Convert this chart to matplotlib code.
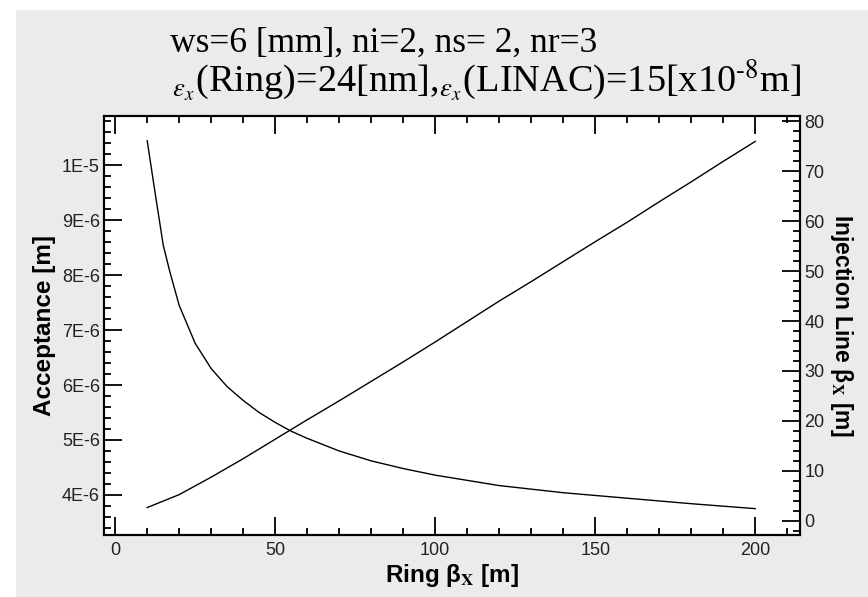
import numpy as np
import matplotlib.pyplot as plt
from matplotlib.patches import Rectangle
from matplotlib.ticker import MultipleLocator, FuncFormatter

# Ring beta_x [m] sample points
ring_beta = [10, 12, 15, 17, 20, 25, 30, 35, 40, 45, 50, 55, 60, 70, 80, 90, 100,
             120, 140, 160, 180, 200]
# Acceptance [m]
acceptance = [10.45e-6, 9.68e-6, 8.55e-6, 8.08e-6, 7.45e-6, 6.76e-6, 6.30e-6,
              5.97e-6, 5.72e-6, 5.50e-6, 5.32e-6, 5.16e-6, 5.03e-6, 4.80e-6,
              4.62e-6, 4.48e-6, 4.36e-6, 4.17e-6, 4.04e-6, 3.94e-6, 3.84e-6,
              3.75e-6]

# Injection line beta_x [m]
inj_x = [10, 20, 30, 40, 50, 60, 70, 80, 90, 100, 110, 120, 130, 140,
         150, 160, 170, 180, 190, 200]
inj_beta = [2.6, 5.2, 8.7, 12.4, 16.3, 20.2, 24.0, 27.9, 31.8, 35.8, 39.9,
            44.0, 47.9, 51.9, 55.9, 59.8, 63.9, 67.9, 72.0, 76.0]

title1 = "ws=6 [mm], ni=2, ns= 2, nr=3"
title2 = r"$_{\epsilon_x}$(Ring)=24[nm],$_{\epsilon_x}$(LINAC)=15[x10$^{\text{-}8}$m]"

plt.rcParams['mathtext.fontset'] = 'stix'

W, H = 868, 597
fig = plt.figure(figsize=(W / 100, H / 100), dpi=100, facecolor='white')
# grey panel (the picture has a thin white strip at top and left)
fig.patches.append(Rectangle((16 / W, 0), 1, 1 - 10 / H, transform=fig.transFigure,
                             facecolor='#ebebeb', edgecolor='none', zorder=-10))

ax = fig.add_axes([104 / W, 1 - 535 / H, 696 / W, 419 / H])
ax2 = ax.twinx()

ax.plot(ring_beta, acceptance, color='black', lw=1.0)
ax2.plot(inj_x, inj_beta, color='black', lw=1.0)

ax.set_xlim(-3.5, 214)
ax.set_ylim(3.27e-6, 1.09e-5)
ax2.set_ylim(-2.9, 81.1)

tick_font = dict(family='Liberation Sans', size=13)
lab_font = dict(family='Liberation Sans', size=17.5, weight='bold')

ax.xaxis.set_major_locator(MultipleLocator(50))
ax.xaxis.set_minor_locator(MultipleLocator(10))
ax.yaxis.set_major_locator(MultipleLocator(1e-6))
ax.yaxis.set_minor_locator(MultipleLocator(0.2e-6))
ax.yaxis.set_major_formatter(FuncFormatter(
    lambda v, p: '%dE-6' % round(v * 1e6) if round(v * 1e6) < 10 else '1E-5'))
ax2.yaxis.set_major_locator(MultipleLocator(10))
ax2.yaxis.set_minor_locator(MultipleLocator(2))

ax.tick_params(axis='x', which='both', direction='in', top=True, bottom=True,
               width=1.3, pad=5, labelcolor='#222222')
ax.tick_params(axis='x', which='major', length=13)
ax.tick_params(axis='x', which='minor', length=5)
ax.tick_params(axis='y', which='both', direction='in', left=True, right=False,
               width=1.3, pad=3, labelcolor='#222222')
ax.tick_params(axis='y', which='major', length=13)
ax.tick_params(axis='y', which='minor', length=5)
ax2.tick_params(axis='y', which='both', direction='in', right=True, left=False,
                width=1.3, pad=3, labelcolor='#222222')
ax2.tick_params(axis='y', which='major', length=13)
ax2.tick_params(axis='y', which='minor', length=5)

for a in (ax, ax2):
    for lab in a.get_xticklabels() + a.get_yticklabels():
        lab.set_fontfamily(tick_font['family'])
        lab.set_fontsize(tick_font['size'])
    for s in a.spines.values():
        s.set_linewidth(1.5)

ax.set_xlabel(r"Ring β$_\mathbf{X}$ [m]", labelpad=2, **lab_font)
ax.set_ylabel("Acceptance [m]", labelpad=4, **lab_font)
ax2.set_ylabel(r"Injection Line β$_\mathbf{X}$ [m]", rotation=-90, labelpad=22,
               family='Liberation Sans', size=16.5, weight='bold')

fig.text(170 / W, 1 - 52 / H, title1, family='Liberation Serif', size=25.5,
         va='baseline', ha='left')
fig.text(172 / W, 1 - 92 / H, title2, family='Liberation Serif', size=27.5,
         va='baseline', ha='left')

fig.savefig('out.png', dpi=100, facecolor=fig.get_facecolor())
